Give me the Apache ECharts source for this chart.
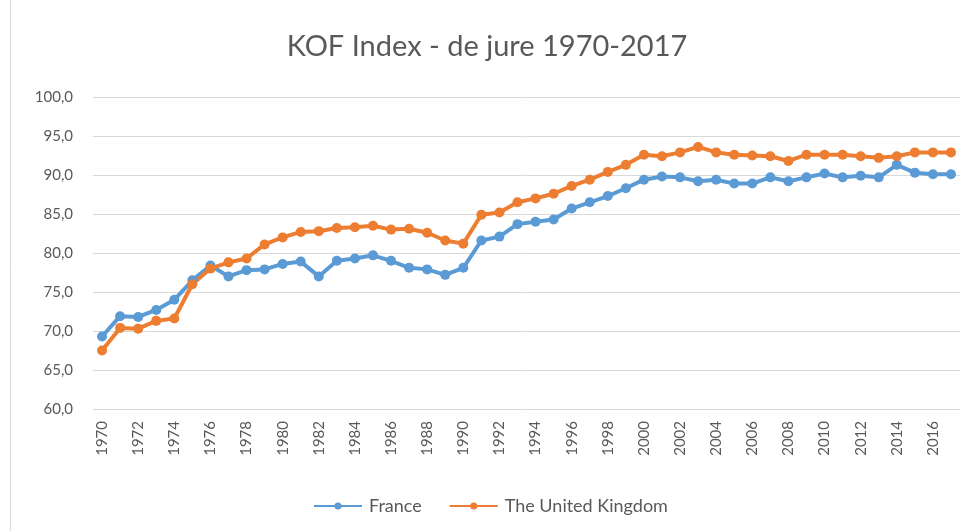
<!DOCTYPE html>
<html>
<head>
<meta charset="utf-8">
<script src="https://cdn.jsdelivr.net/npm/echarts@6/dist/echarts.min.js"></script>
<style>
html,body{margin:0;padding:0;background:#fff;}
#chart{width:974px;height:531px;}
</style>
</head>
<body>
<div id="chart"></div>
<script>
const years = [];
for (let y = 1970; y <= 2017; y++) years.push(String(y));

const france = [69.3,71.9,71.8,72.7,74.0,76.5,78.4,77.0,77.8,77.9,78.6,78.9,77.0,79.0,79.3,79.7,79.0,78.1,77.9,77.2,78.1,81.6,82.1,83.7,84.0,84.3,85.7,86.5,87.3,88.3,89.4,89.8,89.7,89.2,89.4,88.9,88.9,89.7,89.2,89.7,90.2,89.7,89.9,89.7,91.3,90.3,90.1,90.1];
const uk = [67.5,70.4,70.3,71.3,71.6,76.0,78.0,78.8,79.3,81.1,82.0,82.7,82.8,83.2,83.3,83.5,83.0,83.1,82.6,81.6,81.2,84.9,85.2,86.5,87.0,87.6,88.6,89.4,90.4,91.3,92.6,92.4,92.9,93.6,92.9,92.6,92.5,92.4,91.8,92.6,92.6,92.6,92.4,92.2,92.4,92.9,92.9,92.9];

const fmt = v => v.toFixed(1).replace('.', ',');
const font = 'Lato, "Open Sans", sans-serif';

const chart = echarts.init(document.getElementById('chart'));
chart.setOption({
  animation: false,
  backgroundColor: '#ffffff',
  title: {
    text: 'KOF Index - de jure 1970-2017',
    left: 'center',
    top: 27,
    textStyle: {fontFamily: font, fontSize: 29, fontWeight: 'normal', color: '#595959'}
  },
  legend: {
    top: 492,
    left: 308,
    itemWidth: 48,
    itemHeight: 9,
    itemGap: 27,
    textStyle: {fontFamily: font, fontSize: 18, color: '#595959', padding: [0, 0, 0, 2]},
    data: ['France', 'The United Kingdom']
  },
  grid: {left: 93, right: 14, top: 97, bottom: 122, containLabel: false},
  xAxis: {
    type: 'category',
    data: years,
    boundaryGap: true,
    axisLine: {show: false},
    axisTick: {show: false},
    axisLabel: {
      interval: 1,
      rotate: 90,
      fontFamily: font,
      fontSize: 15,
      color: '#595959',
      margin: 12
    }
  },
  yAxis: {
    type: 'value',
    min: 60,
    max: 100,
    interval: 5,
    axisLine: {show: false},
    axisTick: {show: false},
    axisLabel: {formatter: v => fmt(v), fontFamily: font, fontSize: 15, color: '#595959', margin: 20},
    splitLine: {lineStyle: {color: '#d9d9d9', width: 1}}
  },
  series: [
    {
      name: 'France',
      type: 'line',
      data: france,
      symbol: 'circle',
      symbolSize: 10,
      lineStyle: {color: '#5B9BD5', width: 4},
      itemStyle: {color: '#5B9BD5'}
    },
    {
      name: 'The United Kingdom',
      type: 'line',
      data: uk,
      symbol: 'circle',
      symbolSize: 10,
      lineStyle: {color: '#ED7D31', width: 4},
      itemStyle: {color: '#ED7D31'}
    }
  ],
  graphic: [{
    type: 'line',
    shape: {x1: 10.5, y1: 0, x2: 10.5, y2: 531},
    style: {stroke: '#d9d9d9', lineWidth: 1}
  }]
});
</script>
</body>
</html>
